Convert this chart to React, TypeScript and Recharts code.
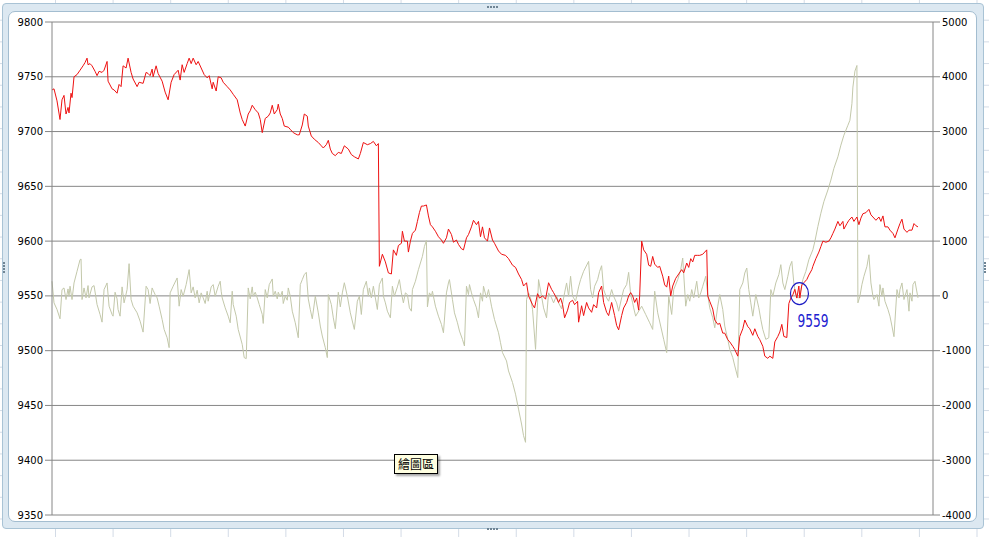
import React from 'react';
import { LineChart, Line, XAxis, YAxis, CartesianGrid, ReferenceDot } from 'recharts';

// index (x) and value pairs
const priceSeries: [number, number][] = [
  [0, 9738], [1, 9739], [2.5, 9728], [4, 9711], [5, 9729], [6, 9733], [7, 9716], [8, 9722], [8.5, 9717], [9.5, 9735],
  [10, 9731], [11, 9750], [12.5, 9752], [14, 9756], [15.5, 9760], [16.5, 9763], [17.5, 9767], [18, 9761], [19, 9762], [20, 9760],
  [21.5, 9755], [22.5, 9751], [23.5, 9755], [25, 9754], [26, 9756], [27.5, 9764], [28, 9746], [30, 9739], [31, 9738], [32.5, 9735],
  [33.5, 9743], [34.5, 9741], [35.5, 9760], [37, 9758], [38, 9767], [39.5, 9754], [40.5, 9748], [42.5, 9741], [43.5, 9745], [45.5, 9744],
  [47, 9754], [48, 9753], [49, 9751], [50, 9757], [50.5, 9750], [52, 9760], [53, 9753], [55, 9746], [56.5, 9736], [58, 9729],
  [59.5, 9745], [61, 9752], [63, 9756], [64, 9747], [65, 9761], [66, 9754], [67.5, 9762], [68.5, 9767], [69.5, 9762], [70.5, 9767],
  [72, 9761], [73, 9764], [74.5, 9758], [76, 9752], [77.5, 9749], [78.5, 9751], [80, 9739], [80.5, 9745], [82, 9737], [83, 9750],
  [84.5, 9749], [85.5, 9745], [87.5, 9741], [89, 9738], [90.5, 9734], [92.5, 9729], [94, 9717], [95, 9711], [96.5, 9705], [98, 9716],
  [99, 9719], [100, 9724], [101.5, 9720], [103, 9717], [104, 9711], [105, 9699], [106.5, 9712], [108, 9714], [109, 9717], [110, 9724],
  [111, 9716], [112.5, 9720], [113, 9725], [114, 9716], [115, 9712], [116, 9705], [118, 9704], [119, 9702], [120.5, 9699], [122.5, 9697],
  [123.5, 9697], [125, 9706], [126, 9716], [127.5, 9714], [128, 9705], [129.5, 9696], [131, 9693], [133, 9690], [134.5, 9687], [135.5, 9685],
  [137, 9688], [138, 9692], [139, 9684], [140, 9680], [141.5, 9678], [143, 9681], [144.5, 9680], [146, 9687], [148, 9684], [149.5, 9679],
  [151, 9677], [153, 9675], [154, 9680], [155.5, 9690], [157.5, 9688], [159, 9689], [160.5, 9691], [162, 9687], [163, 9689], [163.5, 9577],
  [165, 9588], [166.5, 9581], [168, 9571], [169.5, 9570], [170.5, 9592], [172, 9587], [173, 9596], [174.5, 9598], [175, 9609], [176, 9600],
  [177.5, 9600], [178, 9590], [179, 9600], [180, 9607], [181.5, 9610], [182.5, 9618], [183.5, 9626], [184.5, 9632], [185.5, 9632], [187, 9633],
  [188, 9623], [189, 9615], [190, 9613], [191.5, 9609], [193, 9604], [194.5, 9601], [195.5, 9598], [197, 9603], [198, 9611], [199.5, 9606],
  [200.5, 9599], [202, 9601], [203, 9597], [204.5, 9593], [205.5, 9592], [207, 9603], [208, 9606], [209.5, 9613], [210.5, 9619], [212, 9615],
  [213, 9618], [214, 9604], [215, 9613], [216, 9603], [217.5, 9600], [218.5, 9612], [220, 9601], [221, 9598], [223, 9591], [224.5, 9588],
  [226.5, 9587], [228, 9584], [230, 9578], [231.5, 9576], [233, 9570], [234.5, 9565], [235.5, 9559], [237, 9562], [238, 9550], [240, 9542],
  [241, 9539], [242.5, 9552], [243.5, 9548], [245, 9550], [246.5, 9547], [248, 9562], [249.5, 9556], [250.5, 9553], [252, 9548], [253, 9544],
  [254, 9548], [255, 9542], [256, 9530], [257.5, 9537], [258.5, 9544], [260, 9546], [261, 9542], [262.5, 9545], [263, 9526], [264.5, 9541],
  [265.5, 9532], [267, 9544], [268, 9539], [269.5, 9535], [270.5, 9542], [272, 9539], [273, 9553], [274.5, 9559], [275.5, 9544], [277, 9535],
  [278, 9532], [279.5, 9544], [281, 9532], [282, 9523], [283, 9519], [284.5, 9532], [285.5, 9539], [287, 9544], [288, 9550], [289, 9553],
  [290, 9550], [291, 9544], [292, 9548], [293, 9537], [293.5, 9550], [294.5, 9600], [295.5, 9592], [297, 9588], [298, 9578], [299, 9577],
  [300, 9586], [301, 9579], [302.5, 9576], [303.5, 9577], [305, 9568], [306, 9560], [307, 9558], [308, 9568], [309, 9550], [310, 9559],
  [311.5, 9566], [313, 9570], [314.5, 9574], [315.5, 9571], [317, 9580], [318, 9576], [319, 9584], [320, 9581], [321, 9587], [322.5, 9587],
  [323.5, 9587], [325, 9588], [326, 9590], [327, 9592], [327.5, 9550], [328.5, 9545], [330, 9538], [331, 9528], [332.5, 9524], [333.5, 9525],
  [335, 9516], [336, 9516], [337.5, 9510], [338.5, 9508], [340, 9504], [341, 9501], [342.5, 9495], [343.5, 9513], [345, 9520], [346, 9528],
  [347.5, 9522], [348.5, 9520], [350, 9514], [351, 9520], [352.5, 9513], [353.5, 9510], [355, 9504], [356, 9495], [357.5, 9493], [358.5, 9495],
  [360, 9493], [361, 9508], [362.5, 9513], [363.5, 9517], [364.5, 9524], [365.5, 9513], [367, 9512], [368, 9543], [369, 9548], [370, 9551],
  [371, 9556], [372, 9548], [373, 9559], [373.5, 9548], [374.5, 9560], [375.5, 9562], [377, 9565], [378, 9569], [379.5, 9574], [380, 9577],
  [381.5, 9584], [383, 9590], [384, 9595], [385, 9600], [386.5, 9599], [388, 9600], [389, 9603], [390, 9607], [391, 9611], [392.5, 9618],
  [393.5, 9614], [395, 9618], [395.5, 9611], [397, 9616], [398, 9619], [399.5, 9622], [400.5, 9618], [402, 9622], [403, 9615], [404, 9621],
  [405, 9625], [406.5, 9626], [408, 9629], [409, 9624], [410, 9622], [411.5, 9619], [413, 9622], [414, 9618], [415, 9623], [416, 9613],
  [417.5, 9613], [418.5, 9610], [420, 9607], [421, 9603], [422.5, 9611], [423.5, 9616], [424.5, 9620], [425.5, 9611], [427, 9608], [428, 9610],
  [429.5, 9610], [430.5, 9616], [431.5, 9614], [432.5, 9613],
];

const diffSeries: [number, number][] = [
  [0, 267], [1, -127], [2.5, -248], [4, -418], [5, 115], [6, 145], [7, -67], [8, 127], [8.5, -6], [9, 176],
  [10, -67], [11, 236], [12.5, 448], [14, 661], [14.5, 673], [15, -67], [16, 145], [17, -36], [18, 188], [18.5, -36],
  [20, 164], [21, 188], [22.5, -158], [24, -339], [25, -479], [26, 115], [27.5, 236], [28.5, -188], [30, -339], [30.5, -370],
  [31.5, 67], [32.5, -55], [33, -248], [34, -370], [35, 164], [36, -127], [37.5, 115], [38.5, 588], [39.5, -67], [40.5, -188],
  [42.5, -309], [44, -461], [45.5, -661], [47, 176], [48, 115], [49, -139], [50, 145], [50.5, 103], [51.5, 24], [52.5, -36],
  [53.5, -188], [55, -430], [56, -612], [57.5, -764], [58.5, -945], [59, 55], [60.5, 176], [62.5, 327], [63.5, -188], [64.5, 115],
  [65.5, -6], [67, 206], [68.5, 479], [69.5, 55], [70.5, 164], [71.5, -36], [72.5, 103], [73.5, -127], [74.5, 55], [75.5, -36],
  [76.5, -139], [77.5, 85], [78, -97], [79.5, 164], [80.5, 206], [81.5, -6], [83, 176], [84, 267], [84.5, 85], [85, -36],
  [86.5, -218], [88, -370], [89, -491], [90, 85], [90.5, -158], [92, -370], [93, -612], [95, -885], [96, -1127], [97, -1145],
  [98, 145], [99, -55], [100, 164], [100.5, -6], [101.5, 67], [102.5, -36], [103.5, -158], [105, -339], [105.5, -503], [106.5, 115],
  [107.5, -36], [108.5, 206], [110, 309], [110.5, -6], [111.5, 85], [112.5, -55], [113, 67], [114, -18], [115, 85], [115.5, -139],
  [116.5, -6], [117.5, -79], [118, 145], [119, -6], [120, -279], [121.5, -491], [123, -764], [124, 206], [125, 297], [126, 388],
  [127, 430], [128, -55], [129, -248], [130, -418], [131.5, -6], [133, -309], [134, -551], [135, -733], [136.5, -945], [137.5, -1127],
  [138, 24], [139.5, -158], [140.5, -400], [141.5, -600], [143, 67], [144, -200], [145, 55], [146, 240], [147.5, -6], [149, -309],
  [151, -612], [152.5, -97], [153.5, -6], [154.5, -339], [155.5, 115], [157, 267], [158, -6], [158.5, 145], [159.5, -36], [160.5, 176],
  [161.5, -36], [162.5, -248], [163.5, 206], [165, 327], [165.5, -6], [166.5, -127], [167.5, -279], [169, -400], [170, 176], [171, -6],
  [172.5, 164], [173.5, 297], [174.5, 55], [175.5, -127], [176.5, 55], [177.5, 24], [178.5, -218], [179.5, -279], [180, 115], [181.5, 267],
  [183, 479], [185, 721], [186, 903], [187, 1012], [187.5, -200], [188.5, 55], [189.5, -6], [190, 85], [191.5, -188], [193, -370],
  [194.5, -521], [195.5, -673], [197, 55], [198, 236], [198.5, 297], [200, -67], [201, -309], [202.5, -491], [203.5, -642], [205, -794],
  [206, -915], [207, 176], [208, 24], [208.5, 206], [209.5, 55], [210.5, -67], [212, -218], [213, -400], [214, 55], [215, -97],
  [215.5, 176], [217, -36], [218, 115], [219.5, -188], [221, -430], [223, -673], [224, -855], [225, -1036], [227, -1188], [228, -1370],
  [230, -1582], [231.5, -1794], [233, -2067], [234.5, -2339], [235.5, -2551], [236.5, -2673], [237, -67], [238, 55], [239, -36], [240, -248],
  [241.5, -976], [242.5, -127], [243, 297], [244.5, -6], [245.5, -218], [247, -400], [248, 55], [249.5, -36], [250.5, -127], [252, 6],
  [253, -127], [254.5, -236], [256, 55], [257, 236], [258, -6], [259, 358], [260, -6], [261.5, -97], [263, 164], [264, 297],
  [265.5, 448], [268, 630], [269, 115], [270, -36], [271, 176], [272.5, 297], [273.5, 448], [274.5, 551], [275.5, 115], [277, -36],
  [278, -97], [279.5, 115], [280.5, -6], [282, -127], [283, -279], [284.5, -36], [285.5, 115], [287, 206], [288, 430], [289, 24],
  [290, -127], [290.5, -218], [291.5, -370], [294.5, -188], [296.5, -339], [298.5, -491], [300, -612], [301, 85], [302.5, -309], [304, -551],
  [305.5, -794], [307, -1036], [308, -6], [309.5, -339], [310.5, 115], [312.5, 297], [314, 479], [315, 691], [316.5, -188], [317.5, 24],
  [318.5, -97], [319.5, 115], [320.5, -36], [322, 267], [323, -36], [324, 55], [325, 176], [326.5, 358], [327.5, 24], [328.5, -218],
  [330, -400], [331, -582], [332.5, -188], [333.5, 24], [335, -248], [336, -551], [337.5, -794], [338.5, -976], [340, -1127], [341, -1279],
  [342.5, -1491], [343.5, 115], [345, 236], [346, 418], [347, 509], [348, 115], [349, -127], [350, -370], [351.5, 24], [353, -218],
  [354, -430], [355, -612], [356.5, -794], [358, -764], [359, 115], [360, -6], [361.5, 236], [363, 388], [364, 570], [365, 236],
  [366, 115], [367.5, 358], [368.5, 539], [369.5, 630], [370.5, 236], [371.5, -6], [373, -36], [374, 115], [375, 297], [376.5, 448],
  [378, 661], [380, 842], [381, 994], [382.5, 1267], [384, 1509], [385.5, 1721], [387.5, 1933], [389, 2115], [390.5, 2327], [392.5, 2539],
  [394, 2752], [395.5, 2933], [397.5, 3115], [398.5, 3206], [399.5, 3509], [400, 3812], [401, 4103], [402, 4206], [402.5, -127], [403.5, -6],
  [404.5, 206], [405.5, 358], [407, 539], [408, 751], [409, 236], [410, -6], [410.5, -67], [412, 24], [413, -188], [413.5, 206],
  [414.5, -6], [415, 145], [416, -97], [417.5, -248], [418.5, -370], [419.5, -551], [420.5, -745], [422, 115], [423, -36], [423.5, 115],
  [424.5, 236], [425.5, -67], [427, 115], [428, -279], [428.5, 55], [429.5, -97], [430, 206], [431, 267], [432.5, -36],
];

const leftTicks = [9350, 9400, 9450, 9500, 9550, 9600, 9650, 9700, 9750, 9800];
const rightTicks = [-4000, -3000, -2000, -1000, 0, 1000, 2000, 3000, 4000, 5000];

// the hand drawn circle on the sheet, and its label
const markX = 373.3;
const markY = 9552;
const markLabel = '9559';
const tipText = '繪圖區';

const priceData = priceSeries.map(([t, v]) => ({ t, price: v }));
const diffData = diffSeries.map(([t, v]) => ({ t, diff: v }));

const W = 989;
const H = 537;

const tickFont = { fill: '#000', fontSize: 10, fontFamily: 'DejaVu Sans' };

const MarkShape = (props: any) => {
  const { cx, cy } = props;
  if (cx == null || cy == null) return null;
  return (
    <g>
      <ellipse cx={cx} cy={cy} rx={9} ry={11} fill="none" stroke="#1c1cc4" strokeWidth={1.2} />
      <text
        x={cx - 2}
        y={cy + 33}
        fill="#2020d0"
        fontSize={17}
        fontFamily="DejaVu Sans"
        textLength={31}
        lengthAdjust="spacingAndGlyphs"
      >
        {markLabel}
      </text>
    </g>
  );
};

const Dots = ({ x, y, vertical }: { x: number; y: number; vertical?: boolean }) => (
  <div style={{ position: 'absolute', left: x, top: y, display: 'flex', flexDirection: vertical ? 'column' : 'row', gap: 1 }}>
    {[0, 1, 2, 3].map(i => (
      <div key={i} style={{ width: 2, height: 2, background: '#6f8494' }} />
    ))}
  </div>
);

export default function App() {
  return (
    <div
      style={{
        position: 'fixed',
        left: 0,
        top: 0,
        width: W,
        height: H,
        overflow: 'hidden',
        backgroundColor: '#fff',
        backgroundImage:
          'linear-gradient(to right, #d3dbe6 1px, transparent 1px), linear-gradient(to bottom, #d3dbe6 1px, transparent 1px)',
        backgroundSize: '57.6px 21.7px',
        backgroundPosition: '55px 19.7px',
      }}
    >
      <div
        style={{
          position: 'absolute',
          left: 2,
          top: 3,
          width: 982,
          height: 526,
          boxSizing: 'border-box',
          background: '#dce8f1',
          border: '1px solid #a9c3d5',
          borderRadius: 4,
        }}
      />
      <div
        style={{
          position: 'absolute',
          left: 8,
          top: 11,
          width: 969,
          height: 511,
          boxSizing: 'border-box',
          background: '#fff',
          border: '1px solid #a3bdd0',
          borderRadius: 7,
        }}
      />
      <Dots x={487} y={6} />
      <Dots x={487} y={528} />
      <Dots x={3} y={262} vertical />
      <Dots x={984} y={262} vertical />

      <div style={{ position: 'absolute', left: 0, top: 0 }}>
        <LineChart width={W} height={H} margin={{ top: 22, right: 0, bottom: 22, left: 0 }}>
          <CartesianGrid yAxisId="left" vertical={false} stroke="#868686" strokeWidth={1} />
          <XAxis type="number" dataKey="t" domain={[0, 440]} hide allowDuplicatedCategory={false} />
          <YAxis
            yAxisId="left"
            width={52}
            domain={[9350, 9800]}
            ticks={leftTicks}
            interval={0}
            axisLine={{ stroke: '#868686' }}
            tickLine={{ stroke: '#868686' }}
            tickSize={7}
            tickMargin={2}
            tick={tickFont}
          />
          <YAxis
            yAxisId="right"
            orientation="right"
            width={56}
            domain={[-4000, 5000]}
            ticks={rightTicks}
            interval={0}
            axisLine={{ stroke: '#868686' }}
            tickLine={{ stroke: '#868686' }}
            tickSize={7}
            tickMargin={2}
            tick={tickFont}
          />
          <Line
            yAxisId="right"
            data={diffData}
            dataKey="diff"
            type="linear"
            stroke="#c3c8aa"
            strokeWidth={1}
            dot={false}
            activeDot={false}
            isAnimationActive={false}
          />
          <Line
            yAxisId="left"
            data={priceData}
            dataKey="price"
            type="linear"
            stroke="#ee1111"
            strokeWidth={1}
            dot={false}
            activeDot={false}
            isAnimationActive={false}
          />
          <ReferenceDot yAxisId="left" x={markX} y={markY} r={10} shape={MarkShape} ifOverflow="visible" />
        </LineChart>
      </div>

      <div
        style={{
          position: 'absolute',
          left: 394,
          top: 454,
          width: 44,
          height: 20,
          boxSizing: 'border-box',
          background: '#ffffe1',
          border: '1px solid #000',
          boxShadow: '2px 2px 2px rgba(0,0,0,0.35)',
          fontFamily: '"Noto Sans CJK TC"',
          fontSize: 12,
          lineHeight: '18px',
          textAlign: 'center',
          color: '#000',
        }}
      >
        {tipText}
      </div>
    </div>
  );
}
